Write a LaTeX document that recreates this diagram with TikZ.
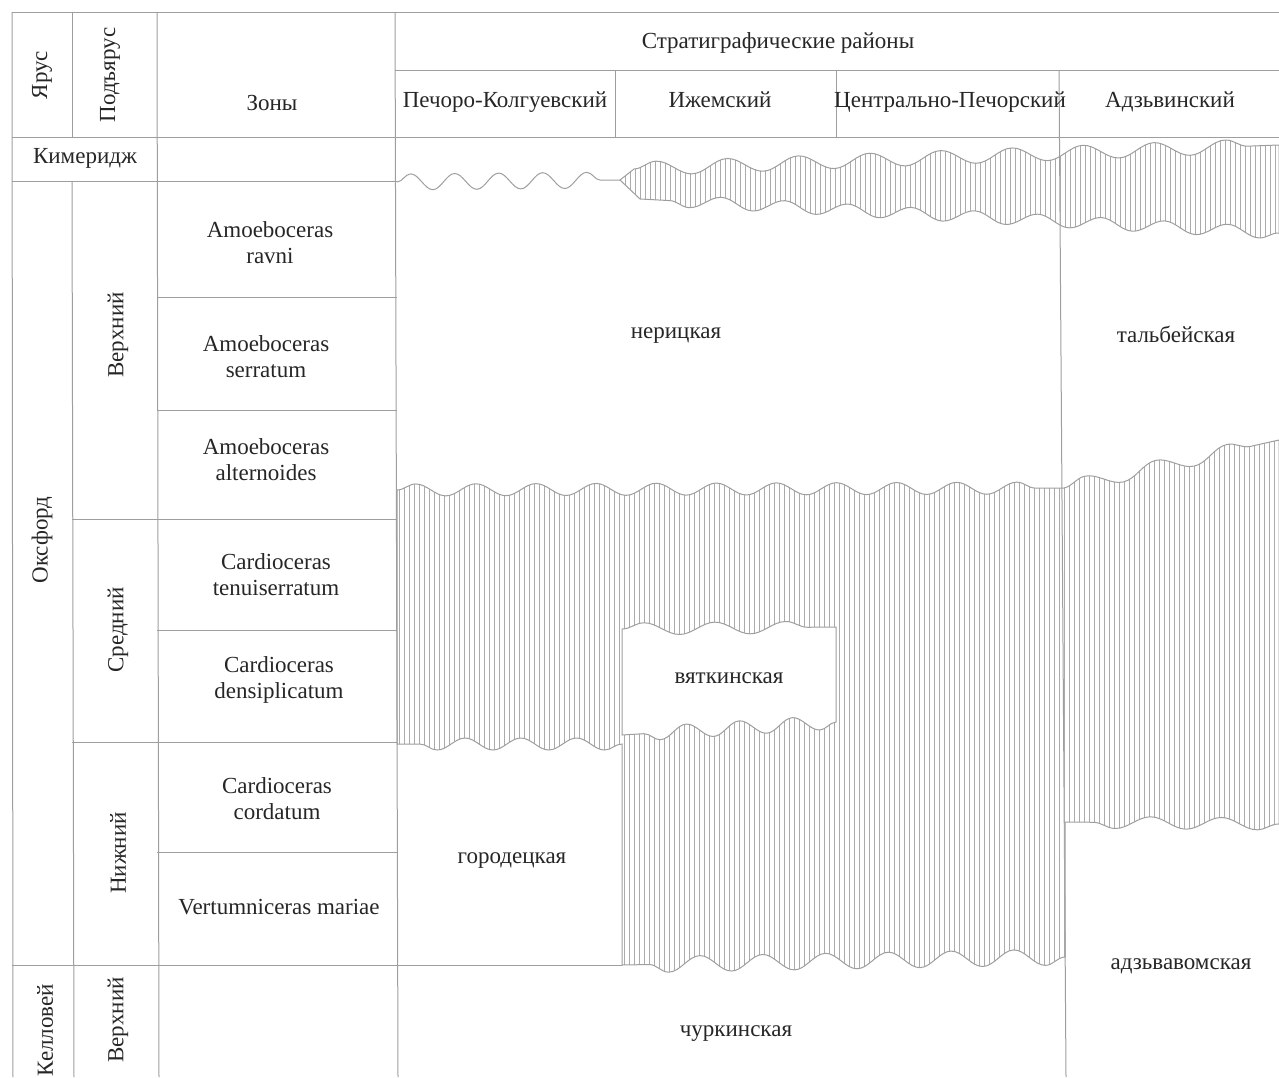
\documentclass[tikz,border=0pt]{standalone}
\usepackage{fontspec}
\setmainfont{Liberation Serif}
\usetikzlibrary{decorations.pathmorphing}
\tikzset{
  grid/.style={draw=black!38, line width=0.5pt},
  wave/.style={draw=black!38, line width=0.5pt},
  hatch/.style={draw=black!33, line width=0.4pt},
  lbl/.style={text=black!85, font=\fontsize{11.5}{13}\selectfont, align=center, inner sep=0pt},
  blbl/.style={lbl, anchor=base},
  vlbl/.style={lbl, rotate=90},
  snk/.style={decoration={snake, amplitude=#1, segment length=30pt}},
  snk/.default=3pt,
}
% outlines of the hatched bodies
\newcommand\upperband{(620,180) -- (634,169)
  decorate[snk=3.5pt, decoration={segment length=35.6pt}] {-- (1279,145)}
  -- (1279,233)
  decorate[snk, decoration={segment length=31.7pt}] {-- (640,199)}
  -- cycle}
\newcommand\lowerbody{(397,490)
  decorate[snk, decoration={segment length=30.05pt}] {-- (1064,488)}
  decorate[snk=3.5pt, decoration={segment length=36.4pt}] {-- (1279,440)}
  -- (1279,824)
  decorate[snk, decoration={segment length=35.4pt}] {-- (1065,822)}
  -- (1065,957)
  decorate[snk=4pt, decoration={segment length=31.4pt}] {-- (622,965)}
  -- (622,744)
  decorate[snk, decoration={segment length=27.9pt}] {-- (397,744)}
  -- cycle}
\begin{document}
\begin{tikzpicture}[x=0.5pt, y=-0.5pt]
  \useasboundingbox (0,0) rectangle (1279,1077);

  % table grid
  \draw[grid] (12,12) -- (1279,12);
  \draw[grid] (395,70) -- (1279,70);
  \draw[grid] (12,137) -- (1279,137);
  \draw[grid] (12,181) -- (397,181);
  \foreach \y in {297,410,519,630,742,852}
    \draw[grid] (157,\y) -- (397,\y);
  \draw[grid] (72,519) -- (157,519);
  \draw[grid] (72,742) -- (157,742);
  \draw[grid] (12,965) -- (622,965);
  \draw[grid] (12,12) -- (13,1077);
  \draw[grid] (72,12) -- (72,137);
  \draw[grid] (72,181) -- (74,1077);
  \draw[grid] (157,12) -- (159,1077);
  \draw[grid] (395,12) -- (398,1077);
  \draw[grid] (615,70) -- (615,137);
  \draw[grid] (836,70) -- (836,137);
  \draw[grid] (1059,70) -- (1066,1077);

  % unconformity line, Pechora-Kolguev
  \draw[wave, decorate, snk=4pt, decoration={segment length=22pt}] (397,182) -- (620,180);

  % upper hatched band
  \begin{scope}
    \clip \upperband;
    \foreach \x in {620,625,...,1279}
      \draw[hatch] (\x,120) -- (\x,260);
  \end{scope}
  \draw[wave] \upperband;

  % lower hatched body
  \begin{scope}
    \clip \lowerbody;
    \foreach \x in {399,404,...,1279}
      \draw[hatch] (\x,420) -- (\x,985);
  \end{scope}
  \draw[wave] \lowerbody;

  % vyatka lens
  \filldraw[wave, fill=white] (622,629)
    decorate[snk, decoration={segment length=35.4pt}] {-- (836,627)}
    -- (836,722)
    decorate[snk=3.5pt, decoration={segment length=26.6pt}] {-- (622,735)}
    -- cycle;

  % header
  \node[vlbl] (yarus) at (42,75) {Ярус};
  \node[vlbl] (podyarus) at (110,75) {Подъярус};
  \node[blbl] (zony) at (272,110) {Зоны};
  \node[blbl] (rayony) at (778,48) {Стратиграфические районы};
  \node[blbl] (pk) at (505,107) {Печоро-Колгуевский};
  \node[blbl] (izh) at (720,107) {Ижемский};
  \node[blbl] (cp) at (950,107) {Центрально-Печорский};
  \node[blbl] (adz) at (1170,107) {Адзьвинский};

  % stages and substages
  \node[blbl] (kim) at (85,163) {Кимеридж};
  \node[vlbl] (oxf) at (42,540) {Оксфорд};
  \node[vlbl] (oxfu) at (118,335) {Верхний};
  \node[vlbl] (oxfm) at (118,630) {Средний};
  \node[vlbl] (oxfl) at (118,853) {Нижний};
  \node[vlbl] (kel) at (45,1030) {Келловей};
  \node[vlbl] (kelu) at (118,1020) {Верхний};

  % zones
  \node[lbl] (z1) at (270,243) {Amoeboceras\\ravni};
  \node[lbl] (z2) at (266,357) {Amoeboceras\\serratum};
  \node[lbl] (z3) at (266,460) {Amoeboceras\\alternoides};
  \node[lbl] (z4) at (276,575) {Cardioceras\\tenuiserratum};
  \node[lbl] (z5) at (279,680) {Cardioceras\\densiplicatum};
  \node[lbl] (z6) at (277,799) {Cardioceras\\cordatum};
  \node[blbl] (z7) at (279,914) {Vertumniceras mariae};

  % formations
  \node[blbl] (ner) at (676,338) {нерицкая};
  \node[blbl] (talb) at (1176,342) {тальбейская};
  \node[blbl] (vyat) at (729,683) {вяткинская};
  \node[blbl] (gor) at (512,863) {городецкая};
  \node[blbl] (chur) at (736,1036) {чуркинская};
  \node[blbl] (adzv) at (1181,969) {адзьвавомская};
\end{tikzpicture}
\end{document}
